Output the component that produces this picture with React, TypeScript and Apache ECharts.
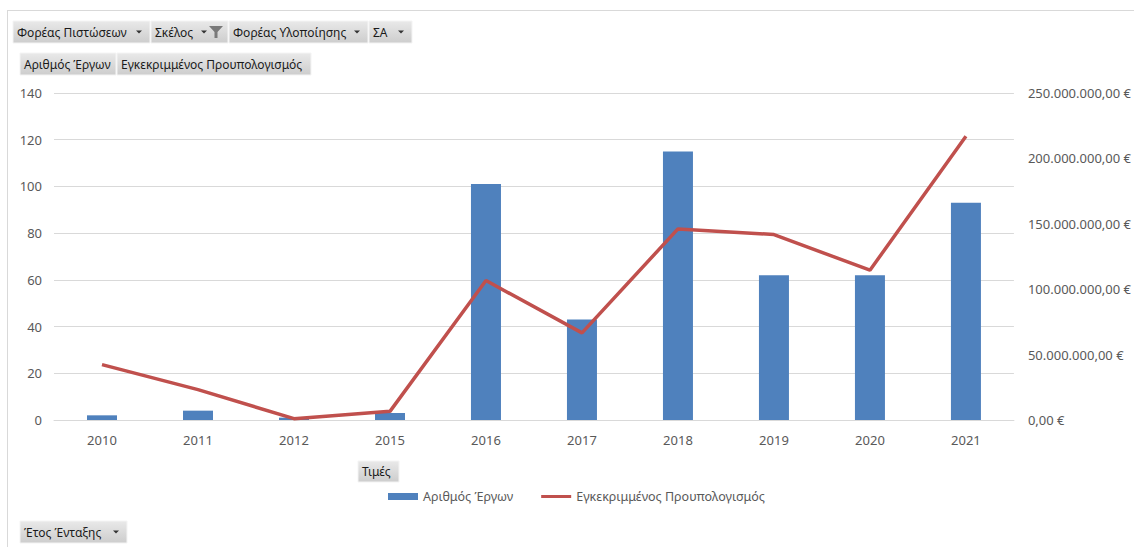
import React, { useEffect, useRef } from "react";
import * as echarts from "echarts";

const categories = ["2010", "2011", "2012", "2015", "2016", "2017", "2018", "2019", "2020", "2021"];
const projectCounts = [2, 4, 1, 3, 101, 43, 115, 62, 62, 93];
const approvedBudget = [42300000, 23200000, 1000000, 6600000, 106600000, 66600000, 146100000, 141800000, 114500000, 217000000];
const leftTicks = { min: 0, max: 140, interval: 20 };
const rightTicks = { min: 0, max: 250000000, interval: 50000000 };
const seriesNames = ["Αριθμός Έργων", "Εγκεκριμμένος Προυπολογισμός"];
const filterButtons = ["Φορέας Πιστώσεων", "Σκέλος", "Φορέας Υλοποίησης", "ΣΑ"];
const valueButtons = ["Αριθμός Έργων", "Εγκεκριμμένος Προυπολογισμός"];
const valuesLabel = "Τιμές";
const axisFieldLabel = "Έτος Ένταξης";

const FONT = "'Noto Sans', 'Open Sans', sans-serif";
const btnFill = {
  type: "linear", x: 0, y: 0, x2: 0, y2: 1,
  colorStops: [{ offset: 0, color: "#e9e9e9" }, { offset: 1, color: "#cdcdcd" }],
};

function button(x: number, y: number, w: number, h: number, label: string, arrowX?: number, extra: any[] = []) {
  const children: any[] = [
    { type: "rect", shape: { x, y, width: w, height: h }, style: { fill: btnFill as any, stroke: "#f4f4f4", lineWidth: 1 } },
    { type: "text", x: x + 4, y: y + h / 2, style: { text: label, font: `12px ${FONT}`, fill: "#1a1a1a", verticalAlign: "middle", align: "left" } },
  ];
  if (arrowX !== undefined) {
    children.push({
      type: "polygon",
      shape: { points: [[arrowX - 3, y + h / 2 - 1.5], [arrowX + 3, y + h / 2 - 1.5], [arrowX, y + h / 2 + 1.5]] },
      style: { fill: "#333" },
    });
  }
  return { type: "group", children: children.concat(extra) };
}

export default function App() {
  const ref = useRef<HTMLDivElement>(null);
  useEffect(() => {
    document.body.style.margin = "0";
    if (!ref.current) return;
    const chart = echarts.init(ref.current, null, { renderer: "svg" });
    const fmtEuro = (v: number) =>
      v.toLocaleString("de-DE", { minimumFractionDigits: 2, maximumFractionDigits: 2 }) + " €";

    const funnel = {
      type: "polygon",
      shape: { points: [[209, 26], [223, 26], [217.5, 32], [217.5, 38], [214.5, 38], [214.5, 32]] },
      style: { fill: "#7a7a7a" },
    };

    chart.setOption({
      animation: false,
      textStyle: { fontFamily: FONT },
      grid: { left: 54, right: 118, top: 93, bottom: 127 },
      legend: {
        left: 383,
        top: 485,
        itemWidth: 30,
        itemHeight: 7,
        itemGap: 28,
        textStyle: { color: "#595959", fontSize: 12.5, fontFamily: FONT },
        data: [
          { name: seriesNames[0], icon: "rect" },
          { name: seriesNames[1], icon: "path://M0,0 L30,0 L30,3 L0,3 Z" },
        ],
      },
      xAxis: {
        type: "category",
        data: categories,
        axisLine: { lineStyle: { color: "#d9d9d9", width: 1 } },
        axisTick: { show: false },
        axisLabel: { color: "#595959", fontSize: 13, margin: 13 },
      },
      yAxis: [
        {
          type: "value",
          min: leftTicks.min,
          max: leftTicks.max,
          interval: leftTicks.interval,
          axisLine: { show: false },
          axisTick: { show: false },
          axisLabel: { color: "#595959", fontSize: 13, margin: 12 },
          splitLine: { lineStyle: { color: "#d9d9d9", width: 1 } },
        },
        {
          type: "value",
          min: rightTicks.min,
          max: rightTicks.max,
          interval: rightTicks.interval,
          axisLine: { show: false },
          axisTick: { show: false },
          splitLine: { show: false },
          axisLabel: { color: "#595959", fontSize: 13, margin: 14, formatter: (v: number) => fmtEuro(v) },
        },
      ],
      series: [
        {
          name: seriesNames[0],
          type: "bar",
          data: projectCounts,
          barWidth: 30,
          itemStyle: { color: "#4f81bd" },
          yAxisIndex: 0,
        },
        {
          name: seriesNames[1],
          type: "line",
          data: approvedBudget,
          yAxisIndex: 1,
          symbol: "none",
          lineStyle: { color: "#c0504d", width: 3.5 },
          itemStyle: { color: "#c0504d" },
        },
      ],
      graphic: [
        { type: "line", shape: { x1: 7, y1: 10.5, x2: 1134, y2: 10.5 }, style: { stroke: "#d9d9d9", lineWidth: 1 } },
        { type: "line", shape: { x1: 7.5, y1: 10, x2: 7.5, y2: 547 }, style: { stroke: "#d9d9d9", lineWidth: 1 } },
        button(13, 21, 137, 22, filterButtons[0], 139),
        button(151, 21, 77, 22, filterButtons[1], 204, [funnel]),
        button(229, 21, 139, 22, filterButtons[2], 357),
        button(369, 21, 43, 22, filterButtons[3], 401),
        button(20, 53, 96, 22, valueButtons[0]),
        button(117, 53, 194, 22, valueButtons[1]),
        button(358, 461, 41, 21, valuesLabel),
        button(20, 521, 107, 22, axisFieldLabel, 116),
      ],
    });
    return () => chart.dispose();
  }, []);
  return <div ref={ref} style={{ width: 1134, height: 547, background: "#fff" }} />;
}
